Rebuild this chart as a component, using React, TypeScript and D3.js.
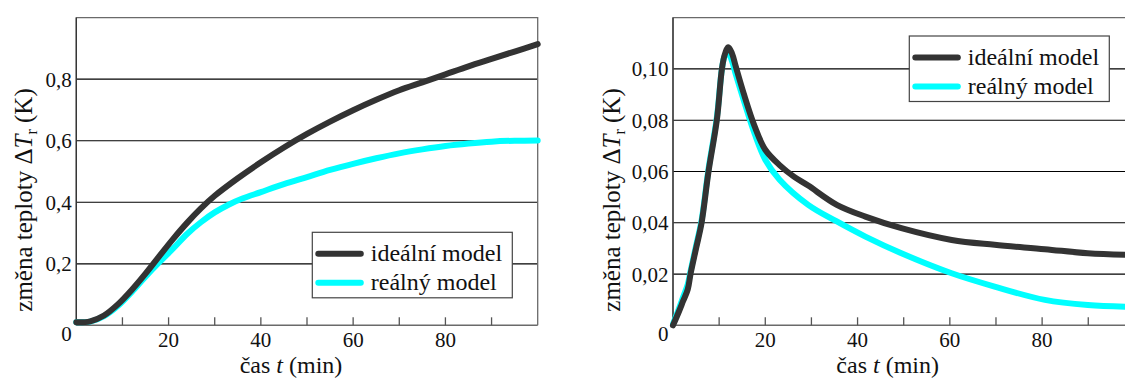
import React from "react";
import * as d3 from "d3";

// ---------- data ----------
const seriesNames = ["ideální model", "reálný model"];
const seriesColors = ["#333333", "#00ffff"];

// left panel: temperature change (K) vs time (min)
const leftIdealT = [0, 3, 6, 9, 12, 15, 18, 21, 24, 27, 30, 35, 40, 45, 50, 55, 60, 65, 70, 75, 80, 85, 90, 95, 100];
const leftIdealV = [0.01, 0.013, 0.032, 0.068, 0.115, 0.168, 0.225, 0.281, 0.333, 0.38, 0.421, 0.478, 0.53, 0.578, 0.622, 0.662, 0.699, 0.733, 0.764, 0.79, 0.816, 0.842, 0.866, 0.89, 0.914];
const leftRealT = [0, 3, 6, 9, 12, 15, 18, 21, 24, 27, 30, 33, 36, 40, 45, 50, 55, 60, 65, 70, 75, 80, 85, 90, 95, 100];
const leftRealV = [0.01, 0.012, 0.03, 0.063, 0.108, 0.158, 0.205, 0.25, 0.297, 0.335, 0.367, 0.392, 0.412, 0.433, 0.459, 0.482, 0.505, 0.525, 0.543, 0.559, 0.572, 0.583, 0.591, 0.597, 0.6, 0.601];

// right panel
const rightIdealT = [0, 1.2, 2.2, 3.2, 3.8, 5, 6.2, 7.7, 9.5, 10.6, 11.2, 12, 12.8, 13.6, 15.3, 17.7, 20, 23.1, 26.2, 29.3, 35.5, 41.7, 49.5, 60.4, 69.7, 80.6, 89.9, 100];
const rightIdealV = [0, 0.005, 0.0095, 0.014, 0.02, 0.03, 0.04, 0.06, 0.08, 0.1, 0.1055, 0.1085, 0.106, 0.101, 0.0906, 0.0776, 0.0685, 0.0625, 0.058, 0.0545, 0.047, 0.0424, 0.0379, 0.0333, 0.0314, 0.0297, 0.0281, 0.0274];
const rightRealT = [0, 1.2, 2.2, 3.2, 3.8, 5, 6.2, 7.7, 9.5, 10.6, 11.2, 11.9, 12.8, 13.6, 15.3, 17.7, 20, 23.1, 29.3, 35.5, 41.7, 49.5, 60.4, 69.7, 80.6, 89.9, 100];
const rightRealV = [0.0005, 0.006, 0.011, 0.016, 0.021, 0.031, 0.041, 0.061, 0.081, 0.1, 0.105, 0.1065, 0.103, 0.098, 0.088, 0.0747, 0.0646, 0.0568, 0.047, 0.0405, 0.0346, 0.0281, 0.0203, 0.0151, 0.0099, 0.0079, 0.0072];

const xTickValues = [10, 20, 30, 40, 50, 60, 70, 80, 90];
const xTickLabels = [20, 40, 60, 80];
const leftYTicks = [0.2, 0.4, 0.6, 0.8];
const rightYTicks = [0.02, 0.04, 0.06, 0.08, 0.1];

const xTitle = ["čas ", "t", " (min)"];
const yTitle = ["změna teploty Δ", "T", "r", " (K)"];

// ---------- helpers ----------
const locale = d3.formatLocale({ decimal: ",", thousands: " ", grouping: [3], currency: ["", ""] });
const FONT = '"Liberation Serif", Tinos, "Times New Roman", Times, "Noto Serif", "DejaVu Serif", serif';
const fontStyle = { fontFamily: FONT };

type PanelProps = {
  left: number;
  yMax: number;
  yTicks: number[];
  yFmt: string;
  idealT: number[];
  idealV: number[];
  realT: number[];
  realV: number[];
  legendX: number;
  legendY: number;
  yTitleX: number;
};

const TOP = 17.7;
const BOTTOM = 325.3;
const WIDTH = 461.4;

function Panel(p: PanelProps) {
  const x = d3.scaleLinear().domain([0, 100]).range([p.left, p.left + WIDTH]);
  const y = d3.scaleLinear().domain([0, p.yMax]).range([BOTTOM, TOP]);
  const fmt = locale.format(p.yFmt);
  const line = d3
    .line<[number, number]>()
    .x((d) => x(d[0]))
    .y((d) => y(d[1]))
    .curve(d3.curveCatmullRom.alpha(0.5));
  const ideal = p.idealT.map((t, i) => [t, p.idealV[i]] as [number, number]);
  const real = p.realT.map((t, i) => [t, p.realV[i]] as [number, number]);
  const x0 = x(0);
  const x1 = x(100);
  const lw = 200;
  const lh = 65.5;
  return (
    <g>
      {p.yTicks.map((v) => (
        <line key={"g" + v} x1={x0} x2={x1} y1={y(v)} y2={y(v)} stroke="#000" strokeWidth={1.2} />
      ))}
      <path d={`M${x0},${BOTTOM}V${TOP}H${x1}V${BOTTOM}`} fill="none" stroke="#6a6a6a" strokeWidth={1.3} />
      <line x1={x0} x2={x0} y1={TOP} y2={BOTTOM} stroke="#333" strokeWidth={1.3} />
      <line x1={x0} x2={x1} y1={BOTTOM} y2={BOTTOM} stroke="#6a6a6a" strokeWidth={1.5} />
      {xTickValues.map((v) => (
        <line key={"t" + v} x1={x(v)} x2={x(v)} y1={BOTTOM} y2={BOTTOM - 8} stroke="#555" strokeWidth={1.3} />
      ))}
      {xTickLabels.map((v) => (
        <text key={"xl" + v} x={x(v)} y={347} textAnchor="middle" fontSize={21} style={fontStyle} fill="#111">
          {v}
        </text>
      ))}
      {p.yTicks.map((v) => (
        <text key={"yl" + v} x={x0 - 4.5} y={y(v) + 7.5} textAnchor="end" fontSize={21} style={fontStyle} fill="#111">
          {fmt(v)}
        </text>
      ))}
      <text x={x0 - 4.5} y={341} textAnchor="end" fontSize={21} style={fontStyle} fill="#111">
        0
      </text>
      <path d={line(real) || ""} fill="none" stroke={seriesColors[1]} strokeWidth={6} strokeLinecap="round" strokeLinejoin="round" />
      <path d={line(ideal) || ""} fill="none" stroke={seriesColors[0]} strokeWidth={6} strokeLinecap="round" strokeLinejoin="round" />
      <rect x={p.legendX} y={p.legendY} width={lw} height={lh} fill="#fff" stroke="#444" strokeWidth={1.2} />
      {seriesNames.map((name, i) => (
        <g key={name}>
          <line
            x1={p.legendX + 6}
            x2={p.legendX + 48.5}
            y1={p.legendY + 21.5 + i * 29}
            y2={p.legendY + 21.5 + i * 29}
            stroke={seriesColors[i]}
            strokeWidth={6}
            strokeLinecap="round"
          />
          <text x={p.legendX + 58.5} y={p.legendY + 29 + i * 29} fontSize={24} style={fontStyle} fill="#111">
            {name}
          </text>
        </g>
      ))}
      <text x={(x0 + x1) / 2 - 16} y={373} textAnchor="middle" fontSize={24} style={fontStyle} fill="#111">
        {xTitle[0]}
        <tspan fontStyle="italic">{xTitle[1]}</tspan>
        {xTitle[2]}
      </text>
      <text
        transform={`translate(${p.yTitleX},200) rotate(-90)`}
        textAnchor="middle"
        fontSize={25}
        style={fontStyle}
        fill="#111"
      >
        {yTitle[0]}
        <tspan fontStyle="italic">{yTitle[1]}</tspan>
        <tspan fontSize={16} dy={5}>{yTitle[2]}</tspan>
        <tspan dy={-5}>{yTitle[3]}</tspan>
      </text>
    </g>
  );
}

export default function App() {
  return (
    <svg width={1125} height={378} style={{ position: "absolute", left: 0, top: 0, background: "#fff" }}>
      <rect x={0} y={0} width={1125} height={378} fill="#fff" />
      <Panel
        left={76.3}
        yMax={1}
        yTicks={leftYTicks}
        yFmt=".1f"
        idealT={leftIdealT}
        idealV={leftIdealV}
        realT={leftRealT}
        realV={leftRealV}
        legendX={312.3}
        legendY={232.3}
        yTitleX={32}
      />
      <Panel
        left={673}
        yMax={0.12}
        yTicks={rightYTicks}
        yFmt=".2f"
        idealT={rightIdealT}
        idealV={rightIdealV}
        realT={rightRealT}
        realV={rightRealV}
        legendX={909.3}
        legendY={36}
        yTitleX={620}
      />
    </svg>
  );
}
